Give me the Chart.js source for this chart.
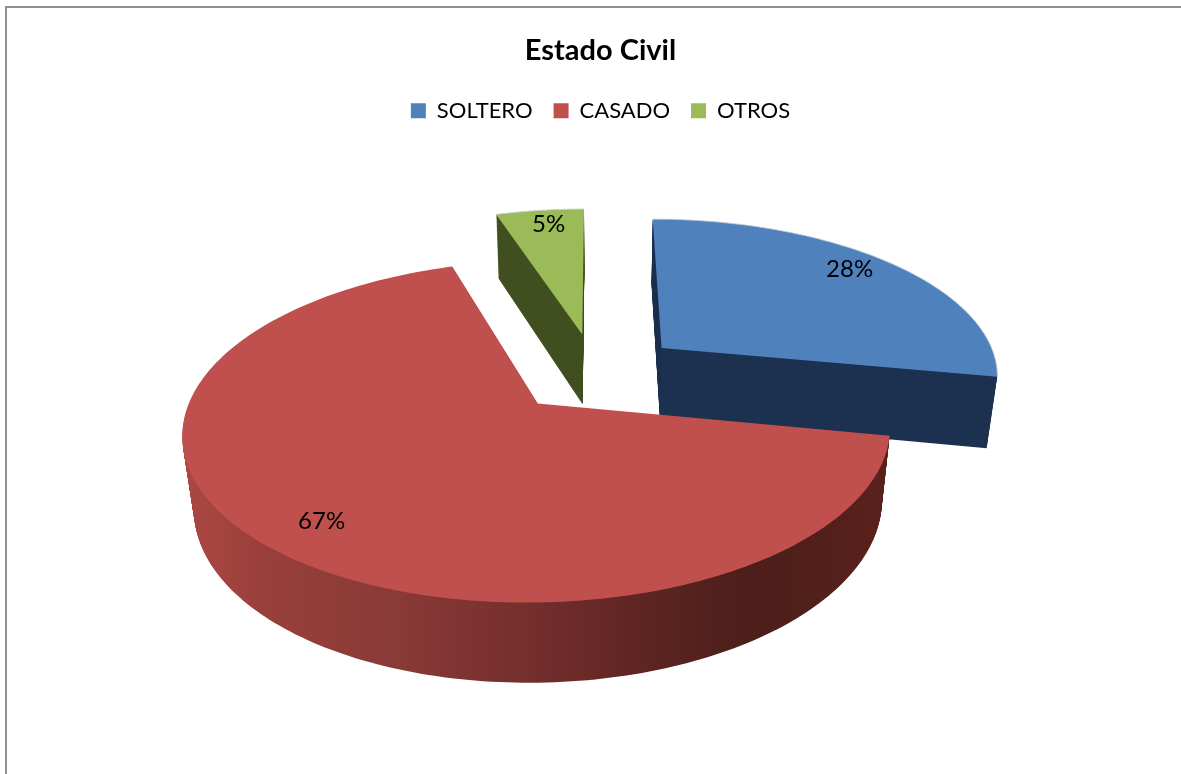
<!DOCTYPE html>
<html lang="es">
<head>
<meta charset="utf-8">
<title>Estado Civil</title>
<style>
  html, body { margin: 0; padding: 0; background: #fff; overflow: hidden; }
  #frame { position: absolute; left: 5px; top: 6px; width: 1300px; height: 900px; border-left: 2px solid #8f8f8f; border-top: 2px solid #8f8f8f; }
  #chart { position: absolute; left: 0; top: 0; }
</style>
</head>
<body>
<div id="frame"></div>
<canvas id="chart" width="1181" height="774"></canvas>
<script src="https://cdn.jsdelivr.net/npm/chart.js@4/dist/chart.umd.min.js"></script>
<script>
// Estado civil, porcentajes
const categories = ['SOLTERO', 'CASADO', 'OTROS'];
const values = [28, 67, 5];
const valueLabels = ['28%', '67%', '5%'];

const topColors = ['#4f81bd', '#c0504d', '#9bbb59'];
const wallColors = ['#1d3250', '#7a302c', '#414f20'];
const rimColors = ['rgba(190,200,215,0.8)', null, 'rgba(200,205,190,0.9)'];
const explode = [0.26, 0.25, 0.26];
const labelSweep = [0.474, 0.496, 0.55];
const labelRadius = [0.863, 0.83, 0.868];
const drawOrder = [2, 0, 1];

const FONT = 'Lato, Carlito, sans-serif';
const WALL_LAYERS = 80;

// Perspective camera, in units of the pie radius
const cam = { dx: -5, dy: -49.4, tilt: 0.4769, drop: 0.2145, persp: 0.1638, back: 0.1875, sink: 0.028 };

function project(el, x, y, z) {
  const r = el.outerRadius;
  const w = 1 + cam.persp * (y + cam.back) + cam.sink * z;
  return {
    x: el.x + cam.dx + r * x / w,
    y: el.y + cam.dy - r * (cam.tilt * (y + cam.back) - cam.drop * z) / w
  };
}

// Centre of an exploded slice, on the pie plane
function sliceCentre(el, index) {
  const mid = (el.startAngle + el.endAngle) / 2;
  return { x: Math.cos(mid) * explode[index], y: -Math.sin(mid) * explode[index] };
}

// Rim points of one slice, at height z
function rimPoints(el, index, z) {
  const c = sliceCentre(el, index);
  const steps = Math.ceil((el.endAngle - el.startAngle) / 0.02);
  const pts = [];
  for (let i = 0; i <= steps; i++) {
    const a = el.startAngle + (el.endAngle - el.startAngle) * i / steps;
    pts.push(project(el, c.x + Math.cos(a), c.y - Math.sin(a), z));
  }
  return { pts, apex: project(el, c.x, c.y, z) };
}

function tracePoints(ctx, pts) {
  ctx.beginPath();
  pts.forEach((p, i) => (i ? ctx.lineTo(p.x, p.y) : ctx.moveTo(p.x, p.y)));
}

function fillSector(ctx, rim, fill) {
  tracePoints(ctx, [rim.apex].concat(rim.pts));
  ctx.closePath();
  ctx.fillStyle = fill;
  ctx.fill();
}

function redWallGradient(ctx) {
  const g = ctx.createLinearGradient(182, 0, 890, 0);
  g.addColorStop(0, '#ad4743');
  g.addColorStop(0.12, '#983f3b');
  g.addColorStop(0.3, '#8a3a37');
  g.addColorStop(0.5, '#732e2c');
  g.addColorStop(0.65, '#5e2522');
  g.addColorStop(0.8, '#4c1e1a');
  g.addColorStop(1, '#5a211c');
  return g;
}

function drawSlice(ctx, el, index) {
  const wall = index === 1 ? redWallGradient(ctx) : wallColors[index];

  // side walls: the sector stacked from the bottom face upwards
  for (let k = WALL_LAYERS; k > 0; k--) {
    fillSector(ctx, rimPoints(el, index, k / WALL_LAYERS), wall);
  }

  // top face
  const top = rimPoints(el, index, 0);
  fillSector(ctx, top, el.options.backgroundColor);
  if (rimColors[index]) {
    tracePoints(ctx, top.pts);
    ctx.strokeStyle = rimColors[index];
    ctx.lineWidth = 1;
    ctx.stroke();
  }
}

const pie3dPlugin = {
  id: 'pie3d',
  beforeDatasetDraw(chart, args) {
    const meta = args.meta;
    const ctx = chart.ctx;
    drawOrder.forEach(i => drawSlice(ctx, meta.data[i], i));

    ctx.save();
    ctx.fillStyle = '#000';
    ctx.font = '24px ' + FONT;
    ctx.textAlign = 'center';
    ctx.textBaseline = 'middle';
    meta.data.forEach((el, i) => {
      const c = sliceCentre(el, i);
      const a = el.startAngle + (el.endAngle - el.startAngle) * labelSweep[i];
      const p = project(el, c.x + Math.cos(a) * labelRadius[i], c.y - Math.sin(a) * labelRadius[i], 0);
      ctx.fillText(valueLabels[i], p.x, p.y);
    });
    ctx.restore();
    return false;
  }
};

new Chart(document.getElementById('chart'), {
  type: 'pie',
  data: {
    labels: categories,
    datasets: [{
      data: values,
      backgroundColor: topColors,
      borderWidth: 0,
      radius: 349
    }]
  },
  options: {
    responsive: false,
    animation: false,
    events: [],
    rotation: 0,
    layout: { padding: { left: 20, top: 33, right: 0, bottom: 0 } },
    plugins: {
      tooltip: { enabled: false },
      title: {
        display: true,
        text: 'Estado Civil',
        color: '#000',
        font: { family: FONT, size: 29, weight: 'bold' },
        padding: { top: 0, bottom: 11 }
      },
      legend: {
        display: true,
        position: 'top',
        labels: {
          color: '#000',
          font: { family: FONT, size: 22 },
          boxWidth: 15,
          boxHeight: 15,
          padding: 21
        }
      }
    }
  },
  plugins: [pie3dPlugin]
});
</script>
</body>
</html>
